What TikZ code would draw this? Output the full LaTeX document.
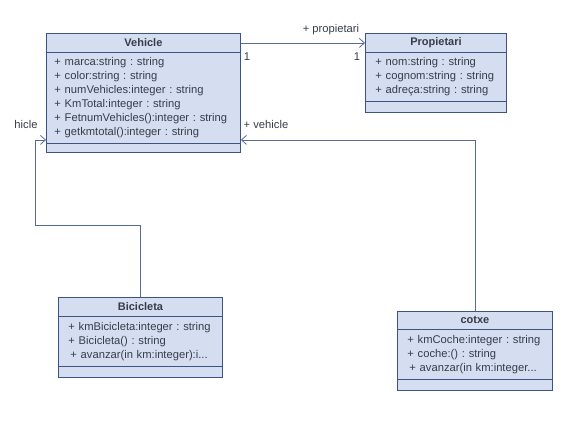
\documentclass[tikz,border=0pt]{standalone}
\usepackage{fontspec}
\setmainfont{Liberation Sans}
\usetikzlibrary{arrows.meta,positioning}
\definecolor{umlfill}{HTML}{D5DEF1}
\definecolor{umlline}{HTML}{3D5382}
\definecolor{umlwire}{HTML}{566C98}
\definecolor{umltext}{HTML}{363C48}
\frenchspacing
\tikzset{
  classhead/.style={draw=umlline,fill=umlfill,line width=0.9pt,anchor=north west,
    inner sep=0pt,minimum height=19pt,font=\fontsize{11}{14}\selectfont\bfseries,text=umltext},
  classbody/.style={draw=umlline,fill=umlfill,line width=0.9pt,anchor=north west,
    inner xsep=8pt,inner ysep=0pt,align=left,font=\fontsize{11.2}{14}\selectfont,text=umltext},
  lbl/.style={font=\fontsize{11.2}{12}\selectfont,text=umltext,inner sep=1pt},
  assoc/.style={draw=umlwire,line width=0.8pt,-{Straight Barb[length=5pt,width=9pt]}}
}
\begin{document}
\begin{tikzpicture}[x=1pt,y=-1pt]
   \useasboundingbox (0,0) rectangle (567,428);
   % Vehicle
   \node[classhead,minimum width=194pt] (veh) at (46,33) {Vehicle};
   \node[classbody,text width=178pt,minimum height=91pt] (vehattr) at (46,52)
     {+ marca:string : string\\+ color:string : string\\+ numVehicles:integer : string\\
      + KmTotal:integer : string\\+ FetnumVehicles():integer : string\\+ getkmtotal():integer : string};
   \node[classbody,text width=178pt,minimum height=9pt] (vehops) at (46,143) {};
   % Propietari
   \node[classhead,minimum width=141pt] (prop) at (365,33) {Propietari};
   \node[classbody,text width=121pt,inner xsep=10pt,minimum height=49pt] (propattr) at (365,52)
     {+ nom:string : string\\+ cognom:string : string\\+ adreça:string : string};
   \node[classbody,text width=125pt,minimum height=11pt] (propops) at (365,101) {};
   % Bicicleta
   \node[classhead,minimum width=164pt] (bici) at (58,297) {Bicicleta};
   \node[classbody,text width=144pt,inner xsep=10pt,minimum height=50pt] (biciattr) at (58,316)
     {+ kmBicicleta:integer : string\\+ Bicicleta() : string\\\hspace{2pt}+ avanzar(in km:integer):i...};
   \node[classbody,text width=148pt,minimum height=11pt] (biciops) at (58,366) {};
   % cotxe
   \node[classhead,minimum width=155pt,minimum height=18pt] (cotxe) at (397,311) {cotxe};
   \node[classbody,text width=135pt,inner xsep=10pt,minimum height=50pt] (cotxeattr) at (397,329)
     {+ kmCoche:integer : string\\+ coche:() : string\\\hspace{2pt}+ avanzar(in km:integer...};
   \node[classbody,text width=139pt,minimum height=11pt] (cotxeops) at (397,379) {};
   % associations
   \coordinate (bend) at (35,225);
   \draw[assoc] (veh.east) -- (prop.west);
   \draw[assoc] (bici.north) |- (bend) |- ([yshift=4pt]vehattr.south west);
   \draw[assoc] (cotxe.north) |- ([yshift=4pt]vehattr.south east);
   % labels
   \node[lbl] (propname) at (331,30) {+ propietari};
   \node[lbl] (multveh) at (247,57) {1};
   \node[lbl] (multprop) at (357,57) {1};
   \node[lbl] (vehname) at (266,124) {+ vehicle};
   \node[lbl] (vehcut) at (26,124) {hicle};
\end{tikzpicture}
\end{document}
